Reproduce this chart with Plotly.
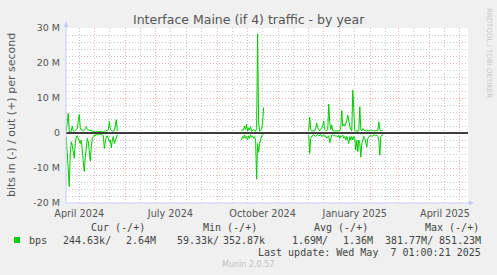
import plotly.graph_objects as go
import pandas as pd

# ---------------- data (Mbit/s, daily) ----------------
p1_start = "2024-04-03"
p1_out = [0.5, 3.0, 5.6, 0.4, 0.3, 0.5, 2.0, 0.6, 0.5, 0.8, 1.0, 1.2, 3.5, 5.3, 1.5, 0.8,
          0.8, 0.7, 0.8, 1.2, 1.8, 1.0, 0.9, 1.0, 0.8, 0.6, 0.5, 0.5, 0.4, 0.3, 0.4, 0.5,
          0.3, 0.4, 0.3, 0.5, 0.4, 0.3, 0.6, 0.5, 0.7, 0.6, 1.0, 3.3, 1.0, 0.8, 0.5, 0.6,
          0.7, 2.0, 3.8, 0.6]
p1_in = [1.0, 7.0, 12.0, 15.3, 6.0, 2.5, 3.5, 5.0, 7.2, 3.0, 1.0, 0.8, 1.5, 2.0, 3.0, 2.0,
         5.0, 8.0, 11.0, 7.0, 3.5, 1.5, 2.5, 5.0, 8.0, 4.0, 1.5, 1.0, 0.5, 0.8, 0.3, 0.5,
         0.6, 0.3, 0.5, 0.4, 0.6, 0.8, 4.4, 2.0, 1.0, 0.8, 1.5, 2.5, 2.0, 4.2, 2.0, 1.0,
         3.0, 2.0, 1.0, 0.5]

p2_start = "2024-09-25"
p2_out = [0.5, 1.0, 0.8, 2.0, 1.0, 2.5, 0.5, 1.5, 0.8, 1.8, 0.5, 0.8, 1.0, 0.6, 0.5, 1.5,
          28.3, 3.0, 0.5, 0.8, 1.0, 3.0, 7.3]
p2_in = [2.0, 1.0, 1.5, 0.5, 1.5, 1.0, 2.0, 0.8, 1.5, 0.5, 1.2, 0.8, 1.5, 1.0, 2.0, 13.2,
         3.0, 5.5, 3.0, 1.5, 0.8, 0.5, 0.5]

p3_start = "2024-12-01"
p3_out = [0.6, 4.6, 1.0, 0.6, 0.6, 0.7, 0.6, 1.5, 2.8, 1.5, 0.8, 0.6, 1.0, 1.5, 2.0, 3.4,
          1.0, 0.7, 0.6, 1.0, 8.3, 3.0, 1.0, 2.3, 0.6, 0.6, 0.7, 0.6, 0.6, 0.6, 0.8, 0.6,
          1.5, 6.4, 2.0, 2.5, 2.0, 2.8, 3.5, 5.1, 3.0, 2.0, 1.0, 0.6, 12.3, 3.0, 0.6, 0.6,
          0.6, 0.7, 0.6, 7.5, 1.0, 0.6, 1.3, 0.8, 0.6, 0.6, 0.6, 0.6, 0.6, 0.7, 1.0, 0.7,
          0.6, 0.6, 0.6, 0.6, 0.6, 0.7, 3.2, 1.0, 0.6, 0.7, 0.8]
p3_in = [0.5, 5.8, 1.5, 0.8, 0.6, 0.5, 0.8, 1.0, 0.6, 0.5, 0.8, 0.6, 0.5, 1.0, 0.6, 0.5,
         1.0, 0.8, 1.5, 1.0, 0.8, 2.8, 1.2, 0.6, 0.5, 0.8, 0.6, 1.0, 0.8, 1.2, 0.6, 1.5,
         0.8, 1.0, 0.6, 1.5, 1.0, 2.0, 1.0, 2.5, 3.0, 1.0, 2.0, 1.0, 2.0, 1.0, 1.5, 4.9,
         2.0, 5.3, 2.0, 3.0, 6.9, 3.0, 2.0, 1.0, 1.5, 2.5, 4.0, 1.5, 1.0, 0.8, 0.6, 1.0,
         0.8, 0.6, 0.5, 0.8, 0.6, 1.0, 2.0, 6.3, 1.0, 0.6, 0.5]

periods = [(p1_start, p1_out, p1_in), (p2_start, p2_out, p2_in), (p3_start, p3_out, p3_in)]

y_ticks = [-20, -10, 0, 10, 20, 30]
y_ticktext = ["-20 M", "-10 M", "0", "10 M", "20 M", "30 M"]
y_minor = [v for v in range(-20, 31, 2)]

month_starts = pd.date_range("2024-04-01", "2025-05-01", freq="MS")
mid_months = [d + pd.Timedelta(days=15) for d in month_starts]
x_labels = {"2024-04": "April 2024", "2024-07": "July 2024", "2024-10": "October 2024",
            "2025-01": "January 2025", "2025-04": "April 2025"}
x_ticktext = [x_labels.get(d.strftime("%Y-%m"), "") for d in month_starts]

x_range = ["2024-04-02 18:00", "2025-05-09 00:00"]

title = "Interface Maine (if 4) traffic - by year"
y_title = "bits in (-) / out (+) per second"
legend_name = "bps"
legend_headers = ["Cur (-/+)", "Min (-/+)", "Avg (-/+)", "Max (-/+)"]
legend_values = [("244.63k/", "2.64M"), ("59.33k/", "352.87k"), ("1.69M/", "1.36M"), ("381.77M/", "851.23M")]
last_update = "Last update: Wed May\u00a0\u00a07 01:00:21 2025"
footer = "Munin 2.0.57"
watermark = "RRDTOOL / TOBI OETIKER"

# ---------------- layout geometry ----------------
W, H = 497, 275
L, R, T, B = 66, 468, 28, 203


def px(x):
    return (x - L) / (R - L)


def py(y):
    return (B - y) / (B - T)


GREEN = "#00cc00"
SANS = "DejaVu Sans"
MONO = "DejaVu Sans Mono"
RED_GRID = "#eeb0b0"
GREY_GRID = "#c6c6c6"

fig = go.Figure()
for start, out_vals, in_vals in periods:
    dates = pd.date_range(start, periods=len(out_vals), freq="D")
    fig.add_trace(go.Scatter(x=dates, y=out_vals, mode="lines",
                             line=dict(color=GREEN, width=1), showlegend=False, hoverinfo="skip"))
    fig.add_trace(go.Scatter(x=dates, y=[-v for v in in_vals], mode="lines",
                             line=dict(color=GREEN, width=1), showlegend=False, hoverinfo="skip"))

fig.update_layout(
    width=W, height=H, autosize=False,
    margin=dict(l=L, r=W - R, t=T, b=H - B, pad=0),
    paper_bgcolor="#f0f0f0", plot_bgcolor="#ffffff",
    showlegend=False,
    xaxis=dict(
        type="date", range=x_range, showline=False, zeroline=False,
        tickmode="array", tickvals=mid_months, ticktext=x_ticktext,
        ticks="", ticklabelstandoff=3,
        tickfont=dict(family=SANS, size=9.7, color="#555555"),
        showgrid=True, gridcolor=GREY_GRID, griddash="1px,2px", gridwidth=1,
        minor=dict(tickmode="array", tickvals=list(month_starts), showgrid=True,
                   gridcolor=RED_GRID, griddash="1px,2px", gridwidth=1, ticks=""),
    ),
    yaxis=dict(
        range=[-20, 30], showline=False, zeroline=False,
        tickmode="array", tickvals=y_ticks, ticktext=y_ticktext,
        ticks="", ticklabelstandoff=5,
        tickfont=dict(family=SANS, size=9.5, color="#555555"),
        showgrid=True, gridcolor=RED_GRID, griddash="1px,2px", gridwidth=1,
        minor=dict(tickmode="array", tickvals=y_minor, showgrid=True,
                   gridcolor=GREY_GRID, griddash="1px,2px", gridwidth=1, ticks=""),
    ),
)

AXIS = "#c8cdf2"
shapes = [
    # zero rule
    dict(type="line", xref="paper", yref="y", x0=0, x1=1, y0=0, y1=0,
         line=dict(color="#000000", width=1.5), layer="above"),
    # axes
    dict(type="line", xref="paper", yref="paper", x0=0, x1=px(470), y0=0, y1=0,
         line=dict(color=AXIS, width=1), layer="above"),
    dict(type="line", xref="paper", yref="paper", x0=0, x1=0, y0=0, y1=py(24),
         line=dict(color=AXIS, width=1), layer="above"),
    dict(type="path", xref="paper", yref="paper",
         path=f"M {px(469)} {py(200.5)} L {px(474)} {py(203)} L {px(469)} {py(205.5)} Z",
         fillcolor=AXIS, line=dict(width=0), layer="above"),
    dict(type="path", xref="paper", yref="paper",
         path=f"M {px(63.5)} {py(27)} L {px(66)} {py(21.5)} L {px(68.5)} {py(27)} Z",
         fillcolor=AXIS, line=dict(width=0), layer="above"),
    # legend swatch
    dict(type="rect", xref="paper", yref="paper", x0=px(14), x1=px(20), y0=py(243), y1=py(237),
         fillcolor=GREEN, line=dict(width=0)),
]
fig.update_layout(shapes=shapes)

ann = []


def text(x, y, s, size, color="#444444", family=MONO, xanchor="left", angle=0):
    ann.append(dict(xref="paper", yref="paper", x=px(x), y=py(y), text=s, showarrow=False,
                    xanchor=xanchor, yanchor="middle", textangle=angle,
                    font=dict(family=family, size=size, color=color)))


text(248.5, 19, title, 12.5, "#555555", SANS, "center")
text(11, 115, y_title, 11, "#555555", SANS, "center", -90)
text(489, 53, watermark, 7, "#c8c8c8", SANS, "center", 90)

header_x = [89, 201, 312, 423]
for hx, h in zip(header_x, legend_headers):
    text(hx, 227, h, 10)
text(27, 240, legend_name, 10)
val_right = [(113, 158), (221, 267), (330, 375), (435, 483)]
for (r1, r2), (v1, v2) in zip(val_right, legend_values):
    text(r1, 240, v1, 10, xanchor="right")
    text(r2, 240, v2, 10, xanchor="right")
text(483, 252, last_update, 10, xanchor="right")
text(248, 264, footer, 8, "#c0c0c0", SANS, "center")

fig.update_layout(annotations=ann)

fig.write_html("out.html")
